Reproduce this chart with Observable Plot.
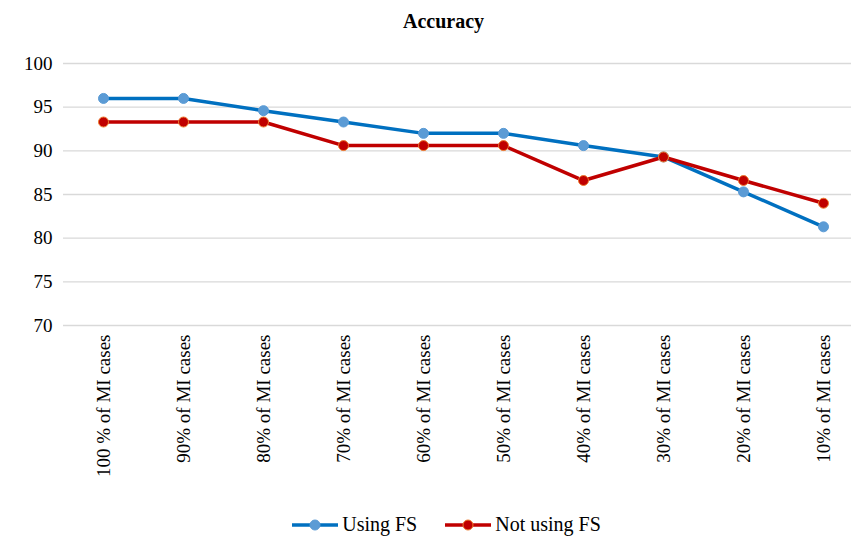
<!DOCTYPE html>
<html>
<head>
<meta charset="utf-8">
<script src="https://cdn.jsdelivr.net/npm/d3@7"></script>
<script src="https://cdn.jsdelivr.net/npm/@observablehq/plot@0.6"></script>
<style>
  html, body { margin: 0; padding: 0; background: #fff; }
  body { width: 851px; height: 539px; overflow: hidden; font-family: "Liberation Serif", "Times New Roman", serif; }
  #title { height: 40px; text-align: center; font-weight: bold; font-size: 20px; line-height: 42px; padding-left: 36px; color: #000; }
  #legend { height: 39px; display: flex; justify-content: center; align-items: center; gap: 28px; font-size: 20px; color: #000; padding-left: 42px; padding-top: 10px; box-sizing: border-box; }
  .item { display: flex; align-items: center; gap: 4px; }
</style>
</head>
<body>
<div id="title">Accuracy</div>
<div id="chart"></div>
<div id="legend"></div>
<script>
const categories = ["100 % of MI cases", "90% of MI cases", "80% of MI cases", "70% of MI cases", "60% of MI cases", "50% of MI cases", "40% of MI cases", "30% of MI cases", "20% of MI cases", "10% of MI cases"];
const usingFS = [96.0, 96.0, 94.6, 93.3, 92.0, 92.0, 90.6, 89.3, 85.3, 81.3];
const notUsingFS = [93.3, 93.3, 93.3, 90.6, 90.6, 90.6, 86.6, 89.3, 86.6, 84.0];
const yTicks = [70, 75, 80, 85, 90, 95, 100];
const seriesNames = ["Using FS", "Not using FS"];
const lineColors = ["#0070C0", "#C00000"];
const markerFill = ["#5B9BD5", "#C00000"];
const markerStroke = ["#5B9BD5", "#ED7D31"];

const data = [];
categories.forEach((c, i) => {
  data.push({cat: c, value: usingFS[i], series: seriesNames[0]});
  data.push({cat: c, value: notUsingFS[i], series: seriesNames[1]});
});
const s0 = data.filter(d => d.series === seriesNames[0]);
const s1 = data.filter(d => d.series === seriesNames[1]);

const chart = Plot.plot({
  width: 851,
  height: 460,
  marginLeft: 63,
  marginRight: 0,
  marginTop: 23,
  marginBottom: 175,
  style: { fontFamily: "'Liberation Serif', 'Times New Roman', serif", fontSize: "19px", color: "#000", background: "#fff" },
  x: { type: "point", domain: categories, range: [103, 823], padding: 0, label: null },
  y: { domain: [70, 100], ticks: yTicks, label: null },
  marks: [
    Plot.ruleY(yTicks, { stroke: "#d9d9d9", strokeWidth: 1.3 }),
    Plot.axisY({ ticks: yTicks, tickSize: 0, tickPadding: 11, label: null, fontSize: 19 }),
    Plot.axisX({ tickSize: 0, tickRotate: -90, tickPadding: 9, label: null, fontSize: 19 }),
    Plot.line(s0, { x: "cat", y: "value", stroke: lineColors[0], strokeWidth: 3.5 }),
    Plot.line(s1, { x: "cat", y: "value", stroke: lineColors[1], strokeWidth: 3.5 }),
    Plot.dot(s0, { x: "cat", y: "value", r: 5, fill: markerFill[0], stroke: markerStroke[0], strokeWidth: 1 }),
    Plot.dot(s1, { x: "cat", y: "value", r: 5, fill: markerFill[1], stroke: markerStroke[1], strokeWidth: 1 })
  ]
});
document.getElementById("chart").appendChild(chart);

const legend = document.getElementById("legend");
seriesNames.forEach((name, i) => {
  const item = document.createElement("div");
  item.className = "item";
  item.innerHTML = `<svg width="46" height="14"><line x1="0" y1="7" x2="46" y2="7" stroke="${lineColors[i]}" stroke-width="3.5"/><circle cx="23" cy="7" r="5" fill="${markerFill[i]}" stroke="${markerStroke[i]}" stroke-width="1"/></svg><span>${name}</span>`;
  legend.appendChild(item);
});
</script>
</body>
</html>
